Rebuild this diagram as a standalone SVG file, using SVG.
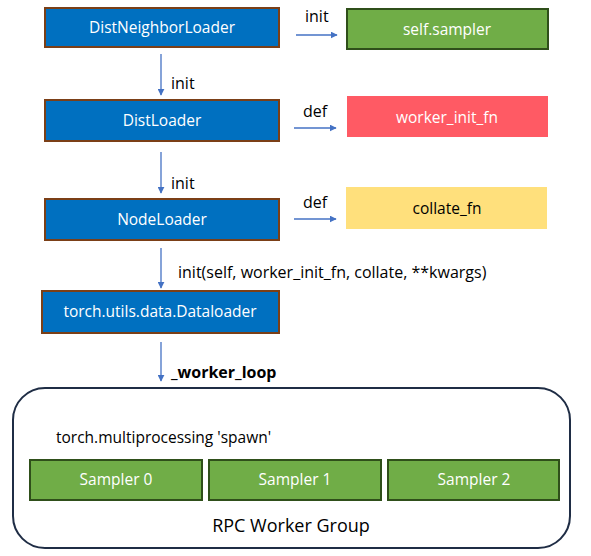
<svg xmlns="http://www.w3.org/2000/svg" width="591" height="556" viewBox="0 0 591 556">
<style>
text{font-family:"Open Sans","Noto Sans","Liberation Sans",sans-serif;font-size:15.5px}
.blue{fill:#0070C0;stroke:#7B3F17;stroke-width:2}
.green{fill:#70AD47;stroke:#2F4F1A;stroke-width:2}
.w{fill:#fff;text-anchor:middle}
.k{fill:#000;font-size:16px}
.kc{fill:#000;text-anchor:middle}
.ar{stroke:#4472C4;stroke-width:1.3;fill:none;marker-end:url(#ah)}
</style>
<defs>
<marker id="ah" viewBox="0 0 10 10" refX="9" refY="5" markerWidth="7" markerHeight="7" markerUnits="userSpaceOnUse" orient="auto">
<path d="M0,0 L10,5 L0,10 z" fill="#4472C4"/>
</marker>
</defs>
<rect width="591" height="556" fill="#fff"/>
<g id="connectors">
<line class="ar" x1="161" y1="54" x2="161" y2="95"/>
<line class="ar" x1="161" y1="152" x2="161" y2="193"/>
<line class="ar" x1="161" y1="248" x2="161" y2="288"/>
<line class="ar" x1="161" y1="342" x2="161" y2="381"/>
<line class="ar" x1="296" y1="35" x2="337" y2="35"/>
<line class="ar" x1="294" y1="128" x2="336" y2="128"/>
<line class="ar" x1="294" y1="219" x2="336" y2="219"/>
<text class="k" x="171" y="89">init</text>
<text class="k" x="171" y="189">init</text>
<text class="k" x="178" y="278">init(self, worker_init_fn, collate, **kwargs)</text>
<text class="k" x="171" y="378" font-weight="bold">_worker_loop</text>
<text class="k" x="305" y="22">init</text>
<text class="k" x="303" y="117">def</text>
<text class="k" x="303" y="208">def</text>
</g>
<g id="distneighborloader"><rect class="blue" x="45" y="8" width="234" height="39"/><text class="w" x="162" y="33">DistNeighborLoader</text></g>
<g id="distloader"><rect class="blue" x="45" y="100" width="234" height="41"/><text class="w" x="162" y="126">DistLoader</text></g>
<g id="nodeloader"><rect class="blue" x="45" y="199" width="234" height="41"/><text class="w" x="162" y="225">NodeLoader</text></g>
<g id="dataloader"><rect class="blue" x="42" y="291" width="237" height="42"/><text class="w" x="160" y="317">torch.utils.data.Dataloader</text></g>
<g id="selfsampler"><rect class="green" x="347" y="9" width="201" height="40"/><text class="w" x="447" y="35">self.sampler</text></g>
<g id="workerinitfn"><rect fill="#FF5A64" x="347" y="96" width="201" height="41"/><text class="w" x="447" y="123">worker_init_fn</text></g>
<g id="collatefn"><rect fill="#FFE07C" x="346" y="187" width="201" height="42"/><text class="kc" x="447" y="214">collate_fn</text></g>
<g id="rpcworkergroup">
<rect x="13" y="388" width="557" height="160" rx="32" fill="none" stroke="#1F2D45" stroke-width="2"/>
<text class="k" x="56" y="443" style="font-size:15.5px">torch.multiprocessing 'spawn'</text>
<text class="kc" x="291" y="532" style="font-size:18px">RPC Worker Group</text>
</g>
<g id="sampler0"><rect class="green" x="30" y="460" width="172" height="40"/><text class="w" x="116" y="485">Sampler 0</text></g>
<g id="sampler1"><rect class="green" x="209" y="460" width="172" height="40"/><text class="w" x="295" y="485">Sampler 1</text></g>
<g id="sampler2"><rect class="green" x="388" y="460" width="171" height="40"/><text class="w" x="474" y="485">Sampler 2</text></g>
</svg>
